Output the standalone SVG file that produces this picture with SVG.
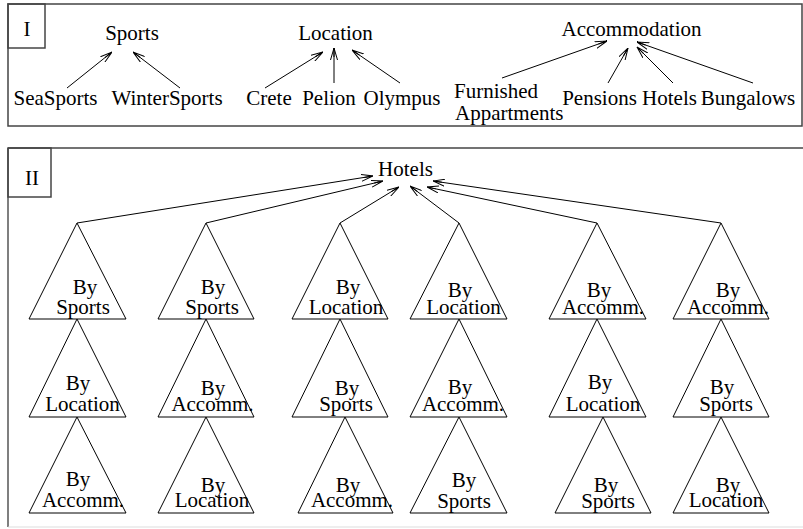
<svg xmlns="http://www.w3.org/2000/svg" width="803" height="529" viewBox="0 0 803 529">
  <style>
    text { font-family: "Liberation Serif", "Times New Roman", serif; font-size: 21px; fill: #000; }
    .mid { text-anchor: middle; }
    .frame { fill: none; stroke: #444; stroke-width: 1.5; }
    .tri { fill: #fff; stroke: #000; stroke-width: 1; }
    .edge { fill: none; stroke: #000; stroke-width: 1; marker-end: url(#head); }
  </style>
  <defs>
    <marker id="head" viewBox="0 0 12 8" refX="12" refY="4" markerWidth="12" markerHeight="8" markerUnits="userSpaceOnUse" orient="auto">
      <path d="M0,0.5 L12,4 L0,7.5 M3,4 L12,4" fill="none" stroke="#000" stroke-width="1"/>
    </marker>
  </defs>
  <rect width="803" height="529" fill="#fff"/>

  <!-- Part I: the three attribute hierarchies -->
  <g id="panel-1">
    <rect class="frame" x="8" y="4" width="794" height="122"/>
    <rect class="frame" x="8" y="4" width="37" height="44"/>
    <text class="mid" x="27" y="36">I</text>
  </g>

  <g id="sports"><text class="mid" x="132" y="40">Sports</text></g>
  <g id="seasports"><text class="mid" x="55.5" y="104.5">SeaSports</text></g>
  <g id="wintersports"><text class="mid" x="167" y="104.5">WinterSports</text></g>

  <g id="location"><text class="mid" x="335.5" y="40">Location</text></g>
  <g id="crete"><text class="mid" x="269" y="104.5">Crete</text></g>
  <g id="pelion"><text class="mid" x="329" y="104.5">Pelion</text></g>
  <g id="olympus"><text class="mid" x="402" y="104.5">Olympus</text></g>

  <g id="accommodation"><text class="mid" x="631.5" y="36">Accommodation</text></g>
  <g id="furnished"><text x="454" y="98">Furnished</text><text x="455" y="120">Appartments</text></g>
  <g id="pensions"><text class="mid" x="599.5" y="104.5">Pensions</text></g>
  <g id="hotels-type"><text class="mid" x="669.5" y="104.5">Hotels</text></g>
  <g id="bungalows"><text class="mid" x="748" y="104.5">Bungalows</text></g>

  <g id="connectors-1">
    <line class="edge" x1="67" y1="88" x2="112" y2="52"/>
    <line class="edge" x1="180" y1="88" x2="133" y2="52"/>
    <line class="edge" x1="265" y1="88" x2="323" y2="52"/>
    <line class="edge" x1="334" y1="83" x2="334" y2="48"/>
    <line class="edge" x1="400" y1="83" x2="352" y2="50"/>
    <line class="edge" x1="502" y1="78" x2="607" y2="41"/>
    <line class="edge" x1="608" y1="83" x2="628" y2="48"/>
    <line class="edge" x1="673" y1="83" x2="637" y2="47"/>
    <line class="edge" x1="753" y1="83" x2="637" y2="42"/>
  </g>

  <!-- Part II: six orderings of the index over Hotels -->
  <g id="panel-2">
    <line x1="8" y1="148" x2="803" y2="148" stroke="#444" stroke-width="1.5"/>
    <line x1="8" y1="148" x2="8" y2="527" stroke="#555" stroke-width="1.5"/>
    <line x1="8" y1="527" x2="803" y2="527" stroke="#ddd" stroke-width="1"/>
    <rect class="frame" x="8" y="148" width="43" height="49"/>
    <text class="mid" x="32" y="185">II</text>
  </g>

  <g id="hotels"><text class="mid" x="405.5" y="175.5">Hotels</text></g>

  <g id="connectors-2">
    <line class="edge" x1="77" y1="223" x2="373" y2="176"/>
    <line class="edge" x1="206" y1="223" x2="383" y2="181"/>
    <line class="edge" x1="340" y1="223" x2="399" y2="187"/>
    <line class="edge" x1="459" y1="223" x2="410" y2="186"/>
    <line class="edge" x1="597" y1="223" x2="427" y2="187"/>
    <line class="edge" x1="721" y1="223" x2="433" y2="181"/>
  </g>

  <!-- column 1 -->
  <g id="c1-r1"><polygon class="tri" points="77,223 126,319 29,319"/><text class="mid" x="85" y="294">By</text><text class="mid" x="83" y="314">Sports</text></g>
  <g id="c1-r2"><polygon class="tri" points="77,319 126,417 29,417"/><text class="mid" x="78" y="390">By</text><text class="mid" x="82.5" y="411">Location</text></g>
  <g id="c1-r3"><polygon class="tri" points="77,417 126,513 29,513"/><text class="mid" x="78" y="486">By</text><text class="mid" x="83" y="507">Accomm.</text></g>

  <!-- column 2 -->
  <g id="c2-r1"><polygon class="tri" points="206,223 254,319 158,319"/><text class="mid" x="213" y="294">By</text><text class="mid" x="212" y="314">Sports</text></g>
  <g id="c2-r2"><polygon class="tri" points="206,319 254,417 158,417"/><text class="mid" x="213" y="395">By</text><text class="mid" x="212.5" y="411">Accomm.</text></g>
  <g id="c2-r3"><polygon class="tri" points="206,417 254,513 158,513"/><text class="mid" x="213" y="492">By</text><text class="mid" x="212" y="507">Location</text></g>

  <!-- column 3 -->
  <g id="c3-r1"><polygon class="tri" points="340,223 388,319 292,319"/><text class="mid" x="348" y="294">By</text><text class="mid" x="346" y="314">Location</text></g>
  <g id="c3-r2"><polygon class="tri" points="340,319 388,417 292,417"/><text class="mid" x="347" y="395">By</text><text class="mid" x="346" y="411">Sports</text></g>
  <g id="c3-r3"><polygon class="tri" points="345,417 393,513 298,513"/><text class="mid" x="348" y="492">By</text><text class="mid" x="352" y="507">Accomm.</text></g>

  <!-- column 4 -->
  <g id="c4-r1"><polygon class="tri" points="459,223 507,319 410,319"/><text class="mid" x="460" y="297">By</text><text class="mid" x="463.5" y="314">Location</text></g>
  <g id="c4-r2"><polygon class="tri" points="459,319 507,417 410,417"/><text class="mid" x="460" y="394">By</text><text class="mid" x="463" y="411">Accomm.</text></g>
  <g id="c4-r3"><polygon class="tri" points="459,417 507,513 410,513"/><text class="mid" x="464" y="487">By</text><text class="mid" x="464" y="508">Sports</text></g>

  <!-- column 5 -->
  <g id="c5-r1"><polygon class="tri" points="597,223 646,319 549,319"/><text class="mid" x="599" y="297">By</text><text class="mid" x="603" y="314">Accomm.</text></g>
  <g id="c5-r2"><polygon class="tri" points="597,319 646,417 549,417"/><text class="mid" x="600" y="389">By</text><text class="mid" x="603" y="411">Location</text></g>
  <g id="c5-r3"><polygon class="tri" points="603,417 651,513 555,513"/><text class="mid" x="606" y="492">By</text><text class="mid" x="608" y="508">Sports</text></g>

  <!-- column 6 -->
  <g id="c6-r1"><polygon class="tri" points="721,223 769,319 673,319"/><text class="mid" x="728" y="297">By</text><text class="mid" x="728" y="314">Accomm.</text></g>
  <g id="c6-r2"><polygon class="tri" points="721,319 769,417 673,417"/><text class="mid" x="722" y="394">By</text><text class="mid" x="726" y="411">Sports</text></g>
  <g id="c6-r3"><polygon class="tri" points="721,417 769,513 673,513"/><text class="mid" x="728" y="492">By</text><text class="mid" x="726" y="507">Location</text></g>
</svg>
